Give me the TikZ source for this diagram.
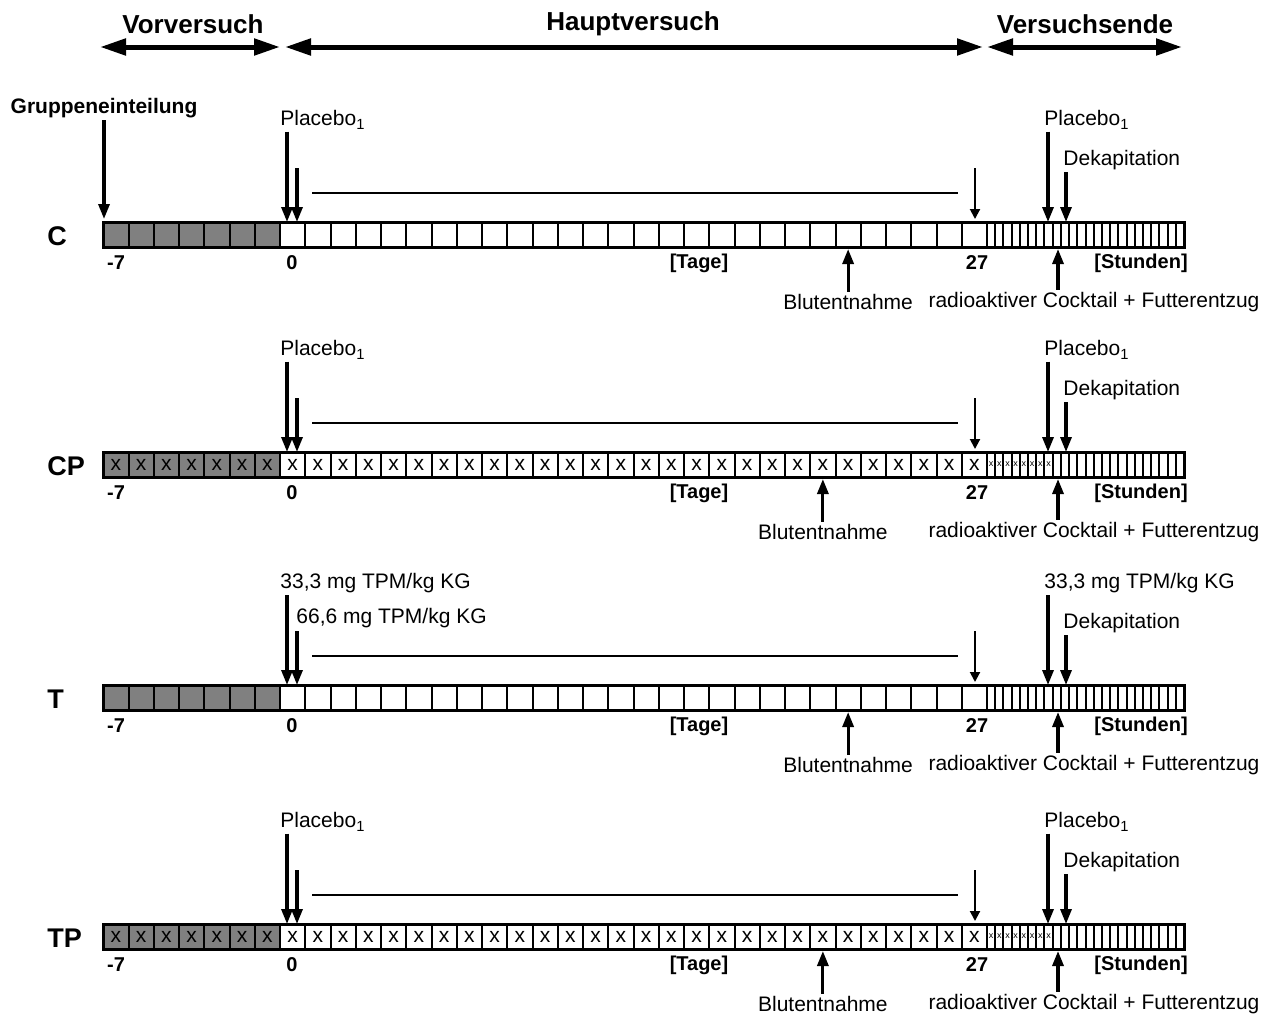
\documentclass[tikz,border=0pt]{standalone}
\usepackage{fontspec}
\setmainfont{Liberation Sans}
\usetikzlibrary{arrows.meta}
\definecolor{grau}{gray}{0.5}
\begin{document}
\begin{tikzpicture}[x=0.5pt,y=-0.5pt,
		zelle/.style={draw,line width=1pt},
		rahmen/.style={draw,line width=1.5pt},
		pfeil/.style={line width=1.6pt,-{Triangle[length=7.5pt,width=5.5pt]}},
		duennpfeil/.style={line width=1pt,-{Triangle[length=5pt,width=5pt]}},
		phase/.style={line width=2.5pt,{Triangle[length=13pt,width=8pt]}-{Triangle[length=13pt,width=8pt]}},
		titel/.style={font=\fontsize{13}{15}\selectfont\bfseries},
		reihe/.style={font=\fontsize{13.5}{15}\selectfont\bfseries,anchor=west,inner sep=0pt},
		skala/.style={font=\fontsize{10}{12}\selectfont\bfseries},
		beschr/.style={font=\fontsize{10.5}{12.5}\selectfont,inner sep=1pt},
		kreuz/.style={font=\fontsize{10.5}{11}\selectfont,inner sep=0pt},
		minikreuz/.style={font=\fontsize{4.5}{4.5}\selectfont,inner sep=0pt}]
		\useasboundingbox (0,0) rectangle (1273,1017);
		\node[titel] (vor) at (193,24) {Vorversuch};
		\node[titel] (haupt) at (633,24) {Hauptversuch};
		\node[titel] (ende) at (1085,24) {Versuchsende};
		\coordinate (vorA) at (100,47);
		\coordinate (vorB) at (280,47);
		\coordinate (hauptA) at (285,47);
		\coordinate (hauptB) at (983,47);
		\coordinate (endeA) at (987,47);
		\coordinate (endeB) at (1182,47);
		\draw [phase] (vorA) to (vorB);
		\draw [phase] (hauptA) to (hauptB);
		\draw [phase] (endeA) to (endeB);
		\node[beschr,font=\fontsize{10.5}{12.5}\selectfont\bfseries] (gruppe) at (104,108) {Gruppeneinteilung};
		\coordinate (gruppepf) at (104,219);
		\draw [pfeil] (gruppe.south) to (gruppepf);
		\foreach \r/\yb/\blut/\kreuz/\dosis in {C/222/22/0/{Placebo\textsubscript{1}},CP/452/21/1/{Placebo\textsubscript{1}},T/685/22/0/{33,3 mg TPM/kg KG},TP/924/21/1/{Placebo\textsubscript{1}}}{
		\begin{scope}[shift={(0,\yb)}]
			\foreach \i in {0,...,6} \draw [zelle,fill=grau] (103.25+\i*25.25,0) rectangle ++(25.25,25);
			\foreach \i in {0,...,27} \draw [zelle] (280+\i*25.25,0) rectangle ++(25.25,25);
			\foreach \i in {0,...,23} \draw [zelle] (987+\i*8.21,0) rectangle ++(8.21,25);
			\draw [rahmen] (103.25,0) rectangle (1184,25);
			\ifnum\kreuz=1
				\foreach \i in {0,...,34} \node[kreuz] at (115.9+\i*25.25,12.5) {x};
				\foreach \i in {0,...,7} \node[minikreuz] at (991.1+\i*8.21,12.5) {x};
			\fi
			\node[reihe] (name\r) at (47,14) {\r};
			\node[skala] at (116,41) {-7};
			\node[skala] at (292,41) {0};
			\node[skala] at (699,41) {[Tage]};
			\node[skala] at (977,41) {27};
			\node[skala] at (1141,41) {[Stunden]};
			\node[beschr,anchor=west] (dosis\r) at (278,-102) {\dosis};
			\coordinate (lang\r) at (287,0);
			\coordinate (kurzA\r) at (297,-54);
			\coordinate (kurz\r) at (297,0);
			\draw [pfeil] (lang\r |- dosis\r.south) to (lang\r);
			\draw [pfeil] (kurzA\r) to (kurz\r);
			\draw [line width=1pt] (312,-29) to (958,-29);
			\coordinate (tagA\r) at (975,-54);
			\coordinate (tag\r) at (975,-3);
			\draw [duennpfeil] (tagA\r) to (tag\r);
			\node[beschr,anchor=west] (end\r) at (1042,-102) {\dosis};
			\coordinate (endpf\r) at (1048,0);
			\draw [pfeil] (endpf\r |- end\r.south) to (endpf\r);
			\node[beschr,anchor=west] (dek\r) at (1061,-62) {Dekapitation};
			\coordinate (dekpf\r) at (1066,0);
			\draw [pfeil] (dekpf\r |- dek\r.south) to (dekpf\r);
			\node[beschr] (bluttext\r) at ({280+(\blut+0.5)*25.25},80) {Blutentnahme};
			\coordinate (blut\r) at ({280+(\blut+0.5)*25.25},27);
			\draw [pfeil] (bluttext\r.north) to (blut\r);
			\node[beschr] (cocktail\r) at (1094,80) {radioaktiver Cocktail + Futterentzug};
			\coordinate (ck\r) at (1058,27);
			\draw [pfeil] (ck\r |- cocktail\r.north) to (ck\r);
		\end{scope}}
		\node[beschr,anchor=west] (dosisSechs) at (294,618) {66,6 mg TPM/kg KG};
\end{tikzpicture}
\end{document}
